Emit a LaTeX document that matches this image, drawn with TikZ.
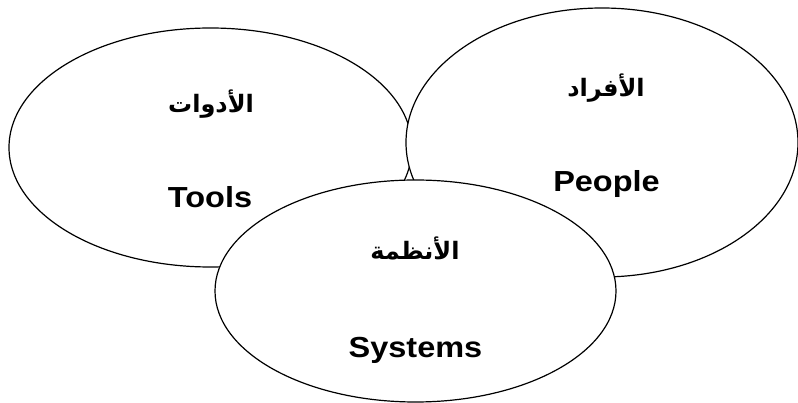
\documentclass[tikz,border=0pt]{standalone}
\usepackage{fontspec}
\setmainfont{Liberation Sans}
\newfontfamily\arabicfont[Script=Arabic]{DejaVu Sans}
\TeXXeTstate=1
\usetikzlibrary{shapes.geometric}
\tikzset{
  ring/.style={ellipse, draw=black, line width=1.2pt, fill=white, inner sep=0pt, outer sep=0pt},
  entxt/.style={font=\fontsize{29}{32}\selectfont\bfseries, xscale=1.12, inner sep=0pt, anchor=base},
  artxt/.style={font=\arabicfont\fontsize{24}{28}\selectfont\bfseries, inner sep=0pt, anchor=center}
}
\begin{document}
\begin{tikzpicture}[x=1pt,y=-1pt]
\useasboundingbox (0,0) rectangle (798,403);
\node[ring, minimum width=403pt, minimum height=239pt] (tools) at (210.5,147.5) {};
\node[ring, minimum width=392pt, minimum height=269pt] (people) at (602,142.5) {};
\node[ring, minimum width=401pt, minimum height=222pt] (systems) at (415.5,291) {};
\node[artxt] (toolsAr) at (211,104) {\beginR الأدوات\endR};
\node[entxt] (toolsEn) at (210,208) {Tools};
\node[artxt] (peopleAr) at (606,88) {\beginR الأفراد\endR};
\node[entxt] (peopleEn) at (606.5,192) {People};
\node[artxt] (systemsAr) at (415,248) {\beginR الأنظمة\endR};
\node[entxt] (systemsEn) at (415.5,357) {Systems};
\end{tikzpicture}
\end{document}
